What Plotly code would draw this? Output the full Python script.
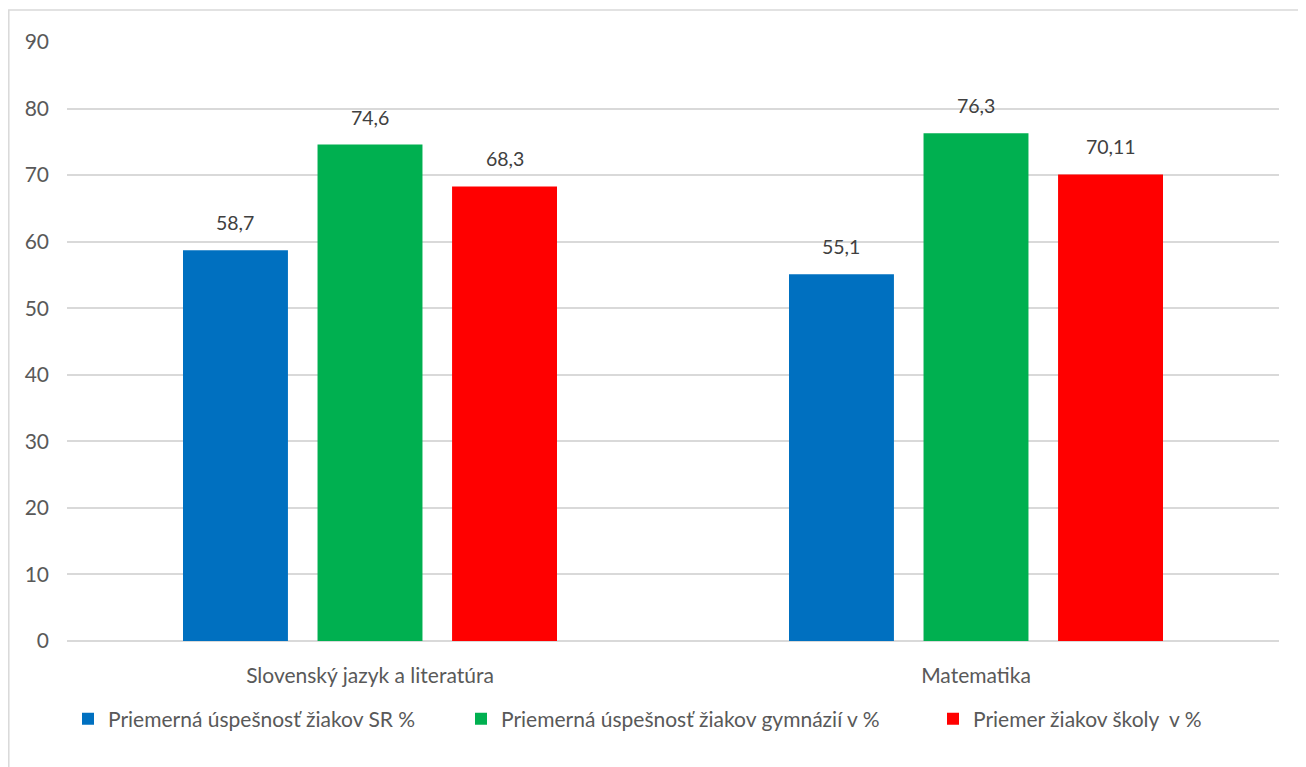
import plotly.graph_objects as go

categories = ["Slovenský jazyk a literatúra", "Matematika"]
series_names = [
    "Priemerná úspešnosť žiakov SR %",
    "Priemerná úspešnosť žiakov gymnázií v %",
    "Priemer žiakov školy  v %",
]
sr_values = [58.7, 55.1]
gym_values = [74.6, 76.3]
school_values = [68.3, 70.11]
colors = ["#0070C0", "#00B050", "#FF0000"]
y_ticks = [0, 10, 20, 30, 40, 50, 60, 70, 80, 90]

OFF = 8  # page body margin
W, H = 1306 - OFF, 767 - OFF
ML, MR, MT, MB = 67 - OFF, 27, 42 - OFF, 126
BARGAP = 0.334
BARGROUPGAP = 0.22
FONT = "Lato"

all_series = [sr_values, gym_values, school_values]
legend_ids = ["legend", "legend2", "legend3"]
legend_square_px = [83, 476, 948]  # screen x of legend entries

plot_w = W - ML - MR
plot_h = H - MT - MB


def px_x(screen_px):
    return (screen_px - OFF - ML) / plot_w


def px_y(screen_px):
    return (H - MB - (screen_px - OFF)) / plot_h


fig = go.Figure()
for name, vals, col, lid in zip(series_names, all_series, colors, legend_ids):
    fig.add_trace(go.Bar(
        x=categories, y=vals, name=name, legend=lid, showlegend=True,
        marker=dict(color=col, line=dict(width=0)),
        hoverinfo="x+y",
    ))

cat_px = plot_w / len(categories)
slot_px = cat_px * (1 - BARGAP) / len(all_series)
annotations = []
for i, vals in enumerate(all_series):
    for c, v in zip(categories, vals):
        annotations.append(dict(
            x=c, y=v, xref="x", yref="y",
            text=f"{v}".replace(".", ","),
            showarrow=False, yanchor="bottom",
            xshift=(i - (len(all_series) - 1) / 2) * slot_px,
            yshift=14,
            font=dict(family=FONT, size=19.5, color="#404040"),
        ))

legend_common = dict(orientation="h", yanchor="middle", y=px_y(719), xanchor="left",
                     font=dict(family=FONT, size=21, color="#595959"), itemwidth=30,
                     bgcolor="rgba(0,0,0,0)", visible=True)
legends = {}
for lid, sx in zip(legend_ids, legend_square_px):
    legends[lid] = dict(legend_common, x=px_x(sx - 15))

fig.update_layout(
    width=W, height=H,
    margin=dict(l=ML, r=MR, t=MT, b=MB),
    paper_bgcolor="white", plot_bgcolor="white",
    showlegend=True,
    barmode="group", bargap=BARGAP, bargroupgap=BARGROUPGAP,
    font=dict(family=FONT, size=21, color="#595959"),
    xaxis=dict(showgrid=False, showline=False, ticks="", ticklabelstandoff=20,
               tickfont=dict(family=FONT, size=21, color="#595959")),
    yaxis=dict(range=[0, 90], tickvals=y_ticks, showgrid=True, gridcolor="#D9D9D9",
               gridwidth=1.5, zeroline=True, zerolinecolor="#D9D9D9", zerolinewidth=1.5,
               showline=False, ticks="", ticklabelstandoff=17,
               tickfont=dict(family=FONT, size=21, color="#595959")),
    annotations=annotations,
    shapes=[dict(type="rect", xref="paper", yref="paper",
                 x0=px_x(OFF + 0.8), x1=px_x(1304), y0=px_y(767 + 40), y1=px_y(10),
                 line=dict(color="#D9D9D9", width=1.5), fillcolor="rgba(0,0,0,0)", layer="below")],
    **legends,
)

fig.write_html("out.html")
